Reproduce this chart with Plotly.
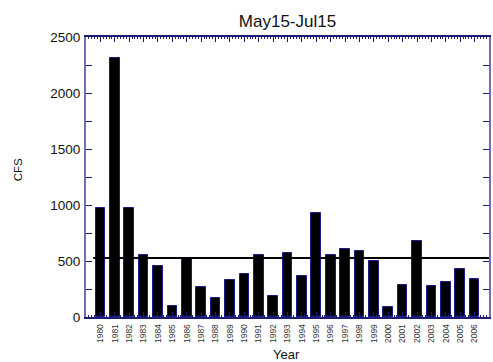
import plotly.graph_objects as go

# Seasonal (May 15 - Jul 15) mean flow by year
years = list(range(1980, 2007))
cfs = [973, 2310, 970, 554, 458, 101, 521, 272, 171, 332,
       380, 557, 189, 575, 368, 928, 554, 611, 588, 503,
       90, 284, 683, 275, 314, 431, 338]
mean_cfs = 527
y_ticks = [0, 500, 1000, 1500, 2000, 2500]

NAVY = "#1c1c78"
AXIS_SIDE = "#7070b8"
FONT = "Liberation Sans, Arial, sans-serif"

# plot area in pixels
W, H = 493, 362
L, R, T, B = 86, 2, 37, 45
PW, PH = W - L - R, H - T - B

fig = go.Figure()
fig.add_trace(go.Bar(
    x=years, y=cfs, width=0.67,
    marker=dict(color="black", line=dict(color="#1a1a8c", width=1)),
    showlegend=False,
))
fig.add_trace(go.Scatter(
    x=[years[0] - 0.5, years[-1] + 1.5], y=[mean_cfs, mean_cfs],
    mode="lines", line=dict(color="black", width=2.2),
    showlegend=False, cliponaxis=True,
))

fig.update_layout(
    width=W, height=H,
    margin=dict(l=L, r=R, t=T, b=B),
    paper_bgcolor="white", plot_bgcolor="white",
    font=dict(family=FONT, color="#111111"),
    title=dict(text="May15-Jul15", x=287.5 / W, xanchor="center",
               y=1 - 21 / H, yanchor="middle", yref="container",
               font=dict(size=17, color="#111111")),
    bargap=0,
)

fig.update_xaxes(
    range=[years[0] - 1, years[-1] + 1],
    tickvals=years, ticktext=[str(y) for y in years],
    tickangle=-90, tickfont=dict(size=8.5, color="#333333"),
    showgrid=False, zeroline=False,
    showline=True, linecolor=NAVY, linewidth=1.5, mirror="allticks",
    ticks="inside", ticklen=5, tickcolor=NAVY, tickwidth=1,
    minor=dict(ticks="inside", ticklen=2, dtick=0.2, tickcolor=NAVY, tickwidth=1),
    ticklabelstandoff=2,
)
fig.update_yaxes(
    range=[0, 2500], tickvals=y_ticks,
    tickfont=dict(size=13.5, color="#111111"),
    showgrid=False, zeroline=False,
    showline=True, linecolor=AXIS_SIDE, linewidth=2, mirror="allticks",
    ticks="inside", ticklen=6, tickcolor=NAVY, tickwidth=1,
    minor=dict(ticks="inside", ticklen=6, dtick=250, tickcolor=NAVY, tickwidth=1),
    ticklabelstandoff=1,
)

fig.add_annotation(text="CFS", x=(18 - L) / PW, y=1 - (170 - T) / PH,
                   xref="paper", yref="paper",
                   xanchor="center", yanchor="middle", textangle=-90, showarrow=False,
                   font=dict(size=11.5, color="#111111"))
fig.add_annotation(text="Year", x=(287.5 - L) / PW, y=-(354.5 - (H - B)) / PH,
                   xref="paper", yref="paper",
                   xanchor="center", yanchor="middle", showarrow=False,
                   font=dict(size=13, color="#111111"))

fig.write_html("out.html")
